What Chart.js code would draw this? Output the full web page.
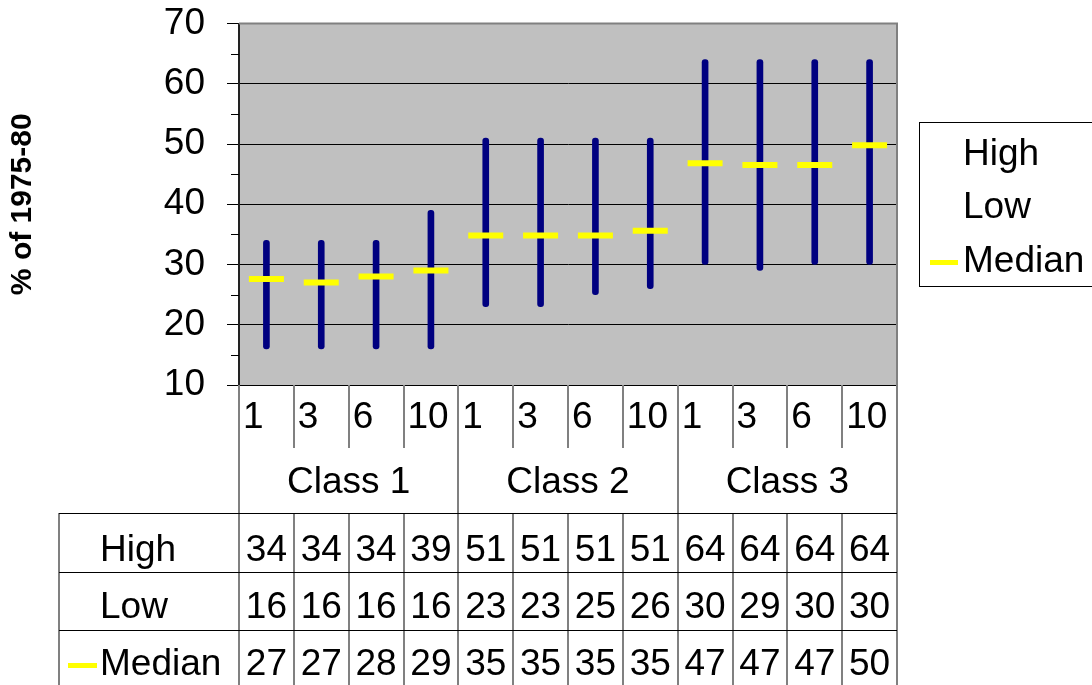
<!DOCTYPE html>
<html>
<head>
<meta charset="utf-8">
<script src="https://cdn.jsdelivr.net/npm/chart.js@4.4.1/dist/chart.umd.min.js"></script>
<style>
  body { margin: 0; background: #fff; }
  #wrap { width: 1092px; height: 685px; }
</style>
</head>
<body>
<div id="wrap"><canvas id="chart" width="1092" height="685"></canvas></div>
<script>
// data
const groups = ["Class 1", "Class 2", "Class 3"];
const years = ["1", "3", "6", "10"];
const categories = ["1", "3", "6", "10", "1", "3", "6", "10", "1", "3", "6", "10"];
const highValues = [34, 34, 34, 39, 51, 51, 51, 51, 64, 64, 64, 64];
const lowValues = [16, 16, 16, 16, 23, 23, 25, 26, 30, 29, 30, 30];
const medianValues = [27.6, 27, 28, 29, 34.8, 34.8, 34.8, 35.6, 46.8, 46.5, 46.5, 49.8];
const medianShown = [27, 27, 28, 29, 35, 35, 35, 35, 47, 47, 47, 50];
const yTicks = [10, 20, 30, 40, 50, 60, 70];

const FONT = "'Liberation Sans', Arial, sans-serif";
const TXT = 37;

// grey plot area + minor ticks
const plotBack = {
  id: "plotBack",
  beforeDraw(chart) {
    const { ctx, chartArea: a } = chart;
    ctx.save();
    ctx.fillStyle = "#C0C0C0";
    ctx.fillRect(a.left, a.top, a.right - a.left, a.bottom - a.top);
    ctx.restore();
  },
  afterDraw(chart) {
    const { ctx, chartArea: a } = chart;
    const y = chart.scales.y;
    ctx.save();
    ctx.strokeStyle = "#808080";
    ctx.lineWidth = 2;
    ctx.beginPath();
    ctx.moveTo(a.left, a.top);
    ctx.lineTo(a.right, a.top);
    ctx.lineTo(a.right, a.bottom);
    ctx.stroke();
    ctx.strokeStyle = "#000";
    ctx.lineWidth = 1;
    for (let v = 15; v < 70; v += 10) {
      const py = Math.round(y.getPixelForValue(v)) + 0.5;
      ctx.beginPath();
      ctx.moveTo(a.left - 8, py);
      ctx.lineTo(a.left, py);
      ctx.stroke();
    }
    ctx.restore();
  }
};

// category rows, data table and legend
const dataTable = {
  id: "dataTable",
  afterDraw(chart) {
    const { ctx, chartArea: a } = chart;
    const x = chart.scales.x;
    const colW = (a.right - a.left) / categories.length;
    const colLeft = i => x.getPixelForValue(i) - colW / 2;
    const catBottom = 448, classBottom = 513;
    const rowTops = [513, 572, 630];
    const tableLeft = 59, bottom = 690;

    ctx.save();
    // vertical lines
    ctx.strokeStyle = "#808080";
    ctx.lineWidth = 2;
    for (let i = 0; i <= categories.length; i++) {
      const px = i === categories.length ? a.right : Math.round(colLeft(i));
      const full = i % years.length === 0;
      ctx.beginPath();
      ctx.moveTo(px, a.bottom);
      ctx.lineTo(px, full ? bottom : catBottom);
      if (!full) {
        ctx.moveTo(px, classBottom);
        ctx.lineTo(px, bottom);
      }
      ctx.stroke();
    }
    ctx.beginPath();
    ctx.moveTo(tableLeft, rowTops[0]);
    ctx.lineTo(tableLeft, bottom);
    ctx.stroke();

    // horizontal lines
    ctx.strokeStyle = "#000";
    ctx.lineWidth = 1;
    rowTops.forEach(t => {
      ctx.beginPath();
      ctx.moveTo(tableLeft, t + 0.5);
      ctx.lineTo(a.right, t + 0.5);
      ctx.stroke();
    });

    ctx.fillStyle = "#000";
    ctx.font = TXT + "px " + FONT;
    // category labels
    ctx.textAlign = "left";
    ctx.textBaseline = "alphabetic";
    categories.forEach((c, i) => ctx.fillText(c, colLeft(i) + 4, 428));
    // group labels
    ctx.textAlign = "center";
    groups.forEach((g, gi) => {
      const l = colLeft(gi * years.length);
      const r = gi === groups.length - 1 ? a.right : colLeft((gi + 1) * years.length);
      ctx.fillText(g, (l + r) / 2, 493);
    });

    // table rows
    const rows = [
      { name: "High", vals: highValues, base: 561 },
      { name: "Low", vals: lowValues, base: 618 },
      { name: "Median", vals: medianShown, base: 675 }
    ];
    rows.forEach(r => {
      ctx.textAlign = "left";
      ctx.fillText(r.name, 100, r.base);
      ctx.textAlign = "center";
      r.vals.forEach((v, i) => ctx.fillText(String(v), x.getPixelForValue(i), r.base));
    });
    ctx.fillStyle = "#FFFF00";
    ctx.fillRect(68, 663, 29, 5);

    // legend
    ctx.strokeStyle = "#000";
    ctx.lineWidth = 1;
    ctx.strokeRect(919.5, 122.5, 200, 164);
    ctx.fillStyle = "#000";
    ctx.textAlign = "left";
    ctx.fillText("High", 963, 165);
    ctx.fillText("Low", 963, 218);
    ctx.fillText("Median", 963, 272);
    ctx.fillStyle = "#FFFF00";
    ctx.fillRect(930, 260, 28, 5);
    ctx.restore();
  }
};

new Chart(document.getElementById("chart"), {
  type: "bar",
  data: {
    labels: categories,
    datasets: [
      {
        label: "High-Low",
        data: lowValues.map((lo, i) => [lo, highValues[i]]),
        backgroundColor: "#000080",
        barThickness: 6,
        borderRadius: 3,
        borderSkipped: false,
        order: 2
      },
      {
        type: "line",
        label: "Median",
        data: medianValues,
        showLine: false,
        pointStyle: "line",
        pointRadius: 17.5,
        pointHoverRadius: 17.5,
        pointBorderWidth: 6,
        pointBorderColor: "#FFFF00",
        borderColor: "#FFFF00",
        order: 1
      }
    ]
  },
  options: {
    responsive: false,
    animation: false,
    layout: { padding: { left: 0, right: 195, top: 23, bottom: 300 } },
    plugins: { legend: { display: false }, tooltip: { enabled: false } },
    scales: {
      x: {
        ticks: { display: false },
        grid: { display: false, drawTicks: false },
        border: { display: false }
      },
      y: {
        min: 10,
        max: 70,
        afterFit: s => { s.width = 239; s.paddingTop = 0; s.paddingBottom = 0; },
        ticks: {
          stepSize: 10,
          padding: 22,
          color: "#000",
          font: { family: FONT, size: TXT },
          callback: v => (yTicks.includes(v) ? String(v) : "")
        },
        grid: { color: "#000", lineWidth: 1, tickLength: 12, tickColor: "#000" },
        border: { color: "#222", width: 2 },
        title: {
          display: true,
          text: "% of 1975-80",
          color: "#000",
          font: { family: FONT, size: 30, weight: "bold" },
          padding: { top: 5, bottom: 0 }
        }
      }
    }
  },
  plugins: [plotBack, dataTable]
});
</script>
</body>
</html>
